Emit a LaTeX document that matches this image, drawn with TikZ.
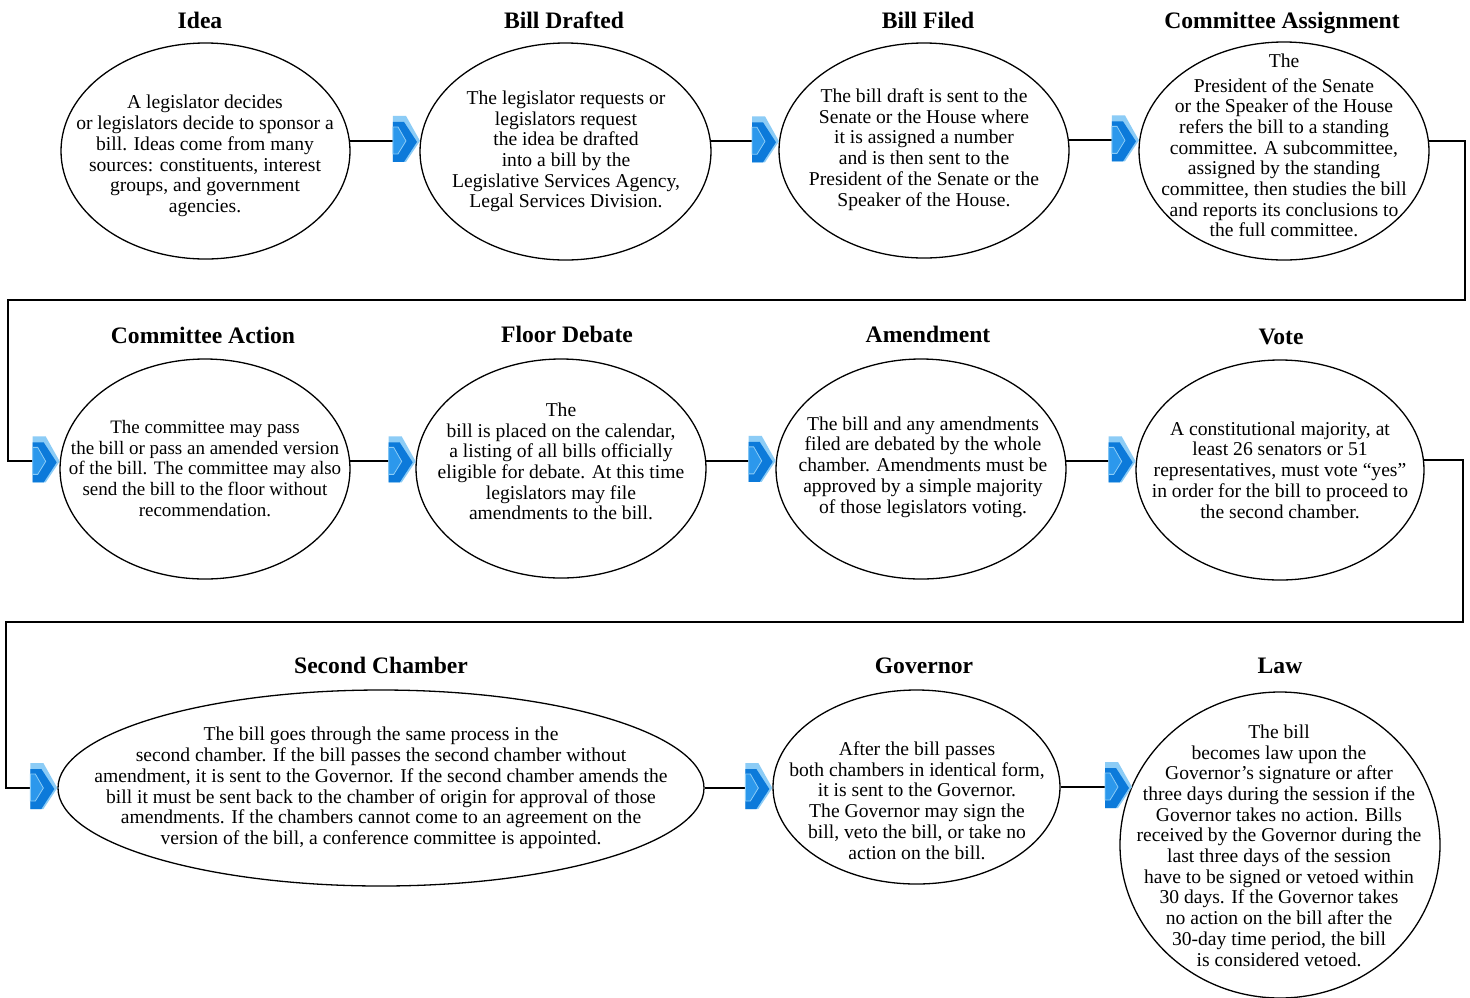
\documentclass[tikz,border=0pt]{standalone}
\usepackage{fontspec}
\setmainfont{Liberation Serif}
\usetikzlibrary{shapes.geometric}
\definecolor{chevlight}{RGB}{140,204,246}
\definecolor{chevdark}{RGB}{12,122,218}
\definecolor{chevmid}{RGB}{44,152,236}
\tikzset{
  stage/.style={draw=black, line width=1.3pt, ellipse, inner sep=0pt},
  stagetitle/.style={anchor=base, inner sep=0pt, font=\fontsize{23.6}{26}\selectfont\bfseries},
  body/.style={align=center, inner sep=0pt, font=\fontsize{19.6}{20.7}\selectfont},
  link/.style={draw=black, line width=1.8pt},
  chev/.pic={
    \fill[chevlight] (-27,-25) -- (-14,-25) -- (0,0) -- (-14,21) -- (-27,21) -- cycle;
    \fill[chevdark] (-27,-19) -- (-16,-19) -- (-3,1) -- (-16,21) -- (-27,21) -- cycle;
    \filldraw[fill=chevmid, draw=chevlight, line width=0.8pt] (-27,-14) -- (-22,-14) -- (-14,0) -- (-22,13) -- (-27,13) -- cycle;
  }
}
\begin{document}
\begin{tikzpicture}[x=1pt,y=-1pt]
\useasboundingbox[fill=white] (0,0) rectangle (1470,997);

% ellipses
\node[stage, minimum width=289pt, minimum height=216pt] (e1) at (205.5,151) {};
\node[stage, minimum width=291pt, minimum height=217pt] (e2) at (565.5,151.5) {};
\node[stage, minimum width=290pt, minimum height=215pt] (e3) at (924,150.5) {};
\node[stage, minimum width=290pt, minimum height=218pt] (e4) at (1284,151) {};
\node[stage, minimum width=290pt, minimum height=220pt] (e5) at (205,469) {};
\node[stage, minimum width=290pt, minimum height=219pt] (e6) at (561,468.5) {};
\node[stage, minimum width=290pt, minimum height=220pt] (e7) at (921,469) {};
\node[stage, minimum width=288pt, minimum height=220pt] (e8) at (1280,470) {};
\node[stage, minimum width=646pt, minimum height=196pt] (e9) at (381,788) {};
\node[stage, minimum width=287pt, minimum height=194pt] (e10) at (916.5,787) {};
\node[stage, minimum width=320pt, minimum height=306pt] (e11) at (1280,845) {};

% titles
\node[stagetitle] (h1) at (200,28.5) {Idea};
\node[stagetitle] (h2) at (564,28.5) {Bill Drafted};
\node[stagetitle] (h3) at (928,28.5) {Bill Filed};
\node[stagetitle] (h4) at (1282,28.5) {Committee Assignment};
\node[stagetitle] (h5) at (203,343.5) {Committee Action};
\node[stagetitle] (h6) at (567,342.5) {Floor Debate};
\node[stagetitle] (h7) at (928,342.5) {Amendment};
\node[stagetitle] (h8) at (1281,344.5) {Vote};
\node[stagetitle] (h9) at (381,673.5) {Second Chamber};
\node[stagetitle] (h10) at (924,673.5) {Governor};
\node[stagetitle] (h11) at (1280,673.5) {Law};

% texts
\node[body] (t1) at (205,156) {A legislator decides\\or legislators decide to sponsor a\\bill.  Ideas come from many\\sources: constituents, interest\\groups, and government\\agencies.};
\node[body] (t2) at (566,151.5) {The legislator requests or\\legislators request\\the idea be drafted\\into a bill by the\\Legislative Services Agency,\\Legal Services Division.};
\node[body] (t3) at (924,149.5) {The bill draft is sent to the\\Senate or the House where\\it is assigned a number\\and is then sent to the\\President of the Senate or the\\Speaker of the House.};
\node[body] (t4) at (1284,145.5) {The\\[4pt]President of the Senate\\or the Speaker of the House\\refers the bill to a standing\\committee.  A subcommittee,\\assigned by the standing\\committee, then studies the bill\\and reports its conclusions to\\the full committee.};
\node[body, font=\fontsize{19}{20.7}\selectfont] (t5) at (205,468.5) {The committee may pass\\the bill or pass an amended version\\of the bill.  The committee may also\\send the bill to the floor without\\recommendation.};
\node[body] (t6) at (561,461.5) {The\\bill is placed on the calendar,\\a listing of all bills officially\\eligible for debate.  At this time\\legislators may file\\amendments to the bill.};
\node[body] (t7) at (923,467) {The bill and any amendments\\filed are debated by the whole\\chamber.  Amendments must be\\approved by a simple majority\\of those legislators voting.};
\node[body] (t8) at (1280,470) {A constitutional majority, at\\least 26 senators or 51\\representatives, must vote “yes”\\in order for the bill to proceed to\\the second chamber.};
\node[body] (t9) at (381,788) {The bill goes through the same process in the\\second chamber.  If the bill passes the second chamber without\\amendment, it is sent to the Governor.  If the second chamber amends the\\bill it must be sent back to the chamber of origin for approval of those\\amendments.  If the chambers cannot come to an agreement on the\\version of the bill, a conference committee is appointed.};
\node[body] (t10) at (917,800.5) {After the bill passes\\both chambers in identical form,\\it is sent to the Governor.\\The Governor may sign the\\bill, veto the bill, or take no\\action on the bill.};
\node[body] (t11) at (1279,845.5) {The bill\\becomes law upon the\\Governor’s signature or after\\three days during the session if the\\Governor takes no action.  Bills\\received by the Governor during the\\last three days of the session\\have to be signed or vetoed within\\30 days.  If the Governor takes\\no action on the bill after the\\30-day time period, the bill\\is considered vetoed.};

% arrow tips
\coordinate (a1) at (e1.4 -| e2.176);
\coordinate (a2) at (e2.4 -| e3.176);
\coordinate (a3) at (e3.4 -| e4.176);
\coordinate (a4) at (e5.177);
\coordinate (a5) at (e5.3 -| e6.177);
\coordinate (a6) at (e6.3 -| e7.177);
\coordinate (a7) at (e7.3 -| e8.177);
\coordinate (a8) at (e9.west);
\coordinate (a9) at (e9.east -| e10.west);
\coordinate (a10) at (e10.east -| e11.158);

% connectors
\draw[link] (e1.4) -- ([xshift=-10pt]a1);
\draw[link] (e2.4) -- ([xshift=-10pt]a2);
\draw[link] (e3.4) -- ([xshift=-10pt]a3);
\draw[link] (e4.4) -| (1465,300) -| ([xshift=-52pt]a4) -- ([xshift=-10pt]a4);
\draw[link] (e5.3) -- ([xshift=-10pt]a5);
\draw[link] (e6.3) -- ([xshift=-10pt]a6);
\draw[link] (e7.3) -- ([xshift=-10pt]a7);
\draw[link] (e8.4) -| (1463,622) -| ([xshift=-51pt]a8) -- ([xshift=-10pt]a8);
\draw[link] (e9.east) -- ([xshift=-10pt]a9);
\draw[link] (e10.east) -- ([xshift=-10pt]a10);

% chevrons
\foreach \c in {a1,a2,a3,a4,a5,a6,a7,a8,a9,a10} { \pic at (\c) {chev}; }
\end{tikzpicture}
\end{document}
